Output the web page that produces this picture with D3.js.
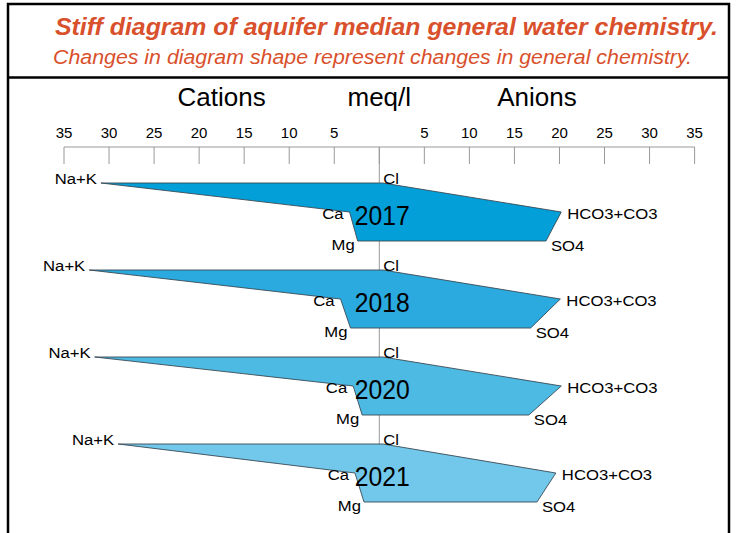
<!DOCTYPE html>
<html>
<head>
<meta charset="utf-8">
<script src="https://cdn.jsdelivr.net/npm/d3@7"></script>
<style>
  html, body { margin: 0; padding: 0; background: #fff; }
  svg { display: block; font-family: "Liberation Sans", Arial, sans-serif; }
</style>
</head>
<body>
<svg id="chart" width="738" height="533"></svg>
<script>
// ---- data ----
const years   = ["2017", "2018", "2020", "2021"];
const naK     = [30.9, 32.2, 31.6, 29.0];
const ca      = [3.3, 4.3, 2.9, 2.7];
const mg      = [2.4, 3.2, 1.9, 1.7];
const cl      = [0.4, 0.4, 0.4, 0.4];
const hco3    = [20.2, 20.1, 20.2, 19.6];
const so4     = [18.5, 16.8, 16.6, 17.5];
const tickVals = [-35, -30, -25, -20, -15, -10, -5, 0, 5, 10, 15, 20, 25, 30, 35];
const colors  = ["#039fd9", "#2aaade", "#4dbae4", "#72c8eb"];
const title    = "Stiff diagram of aquifer median general water chemistry.";
const subtitle = "Changes in diagram shape represent changes in general chemistry.";

// ---- layout ----
const svg = d3.select("#chart");
const x = d3.scaleLinear().domain([-35, 35]).range([64, 694.6]);
const yTop = d3.scalePoint().domain(years).range([183, 444]);
const rowStep = 29;
const K = 1.15; // horizontal stretch of small labels

// frame
svg.append("rect").attr("x", 8).attr("y", 4).attr("width", 721).attr("height", 560)
  .attr("fill", "none").attr("stroke", "#000").attr("stroke-width", 2.5);
svg.append("line").attr("x1", 8).attr("x2", 729).attr("y1", 77.5).attr("y2", 77.5)
  .attr("stroke", "#000").attr("stroke-width", 2.5);

// titles
svg.append("text").attr("x", 55).attr("y", 35)
  .attr("font-size", 23.5).attr("font-weight", "bold").attr("font-style", "italic")
  .attr("textLength", 663).attr("lengthAdjust", "spacingAndGlyphs")
  .attr("fill", "#d9502c").text(title);
svg.append("text").attr("x", 53).attr("y", 64)
  .attr("font-size", 19.5).attr("font-style", "italic")
  .attr("textLength", 639).attr("lengthAdjust", "spacingAndGlyphs")
  .attr("fill", "#d9502c").text(subtitle);

// header labels
const hdr = [["Cations", x(-17.5)], ["meq/l", x(0)], ["Anions", x(17.5)]];
svg.selectAll("text.hdr").data(hdr).join("text").attr("class", "hdr")
  .attr("x", d => d[1]).attr("y", 106).attr("text-anchor", "middle")
  .attr("font-size", 26).attr("fill", "#000").text(d => d[0]);

// axis
const axisY = 147;
svg.append("line").attr("x1", x(-35)).attr("x2", x(35)).attr("y1", axisY).attr("y2", axisY)
  .attr("stroke", "#999").attr("stroke-width", 1);
svg.selectAll("line.tick").data(tickVals).join("line").attr("class", "tick")
  .attr("x1", d => x(d)).attr("x2", d => x(d)).attr("y1", axisY).attr("y2", axisY + 17)
  .attr("stroke", "#999").attr("stroke-width", 1);
svg.selectAll("text.ticklbl").data(tickVals.filter(d => d !== 0)).join("text").attr("class", "ticklbl")
  .attr("x", d => x(d)).attr("y", 138).attr("text-anchor", "middle")
  .attr("font-size", 15).attr("fill", "#000").text(d => Math.abs(d));

// center line
svg.append("line").attr("x1", x(0)).attr("x2", x(0))
  .attr("y1", axisY).attr("y2", yTop(years[years.length - 1]) + 2 * rowStep)
  .attr("stroke", "#999").attr("stroke-width", 1);

// diagrams
const data = years.map((yr, i) => ({
  yr, naK: naK[i], ca: ca[i], mg: mg[i], cl: cl[i], hco3: hco3[i], so4: so4[i], color: colors[i]
}));

const g = svg.selectAll("g.stiff").data(data).join("g").attr("class", "stiff");

g.append("polygon")
  .attr("points", d => {
    const t = yTop(d.yr);
    return [
      [x(-d.naK), t], [x(-d.ca), t + rowStep], [x(-d.mg), t + 2 * rowStep],
      [x(d.so4), t + 2 * rowStep], [x(d.hco3), t + rowStep], [x(d.cl), t]
    ].map(p => p.join(",")).join(" ");
  })
  .attr("fill", d => d.color).attr("stroke", "#3a4a55").attr("stroke-width", 0.9);

const lbl = (sel, fx, fy, anchor, txt) => sel.append("text")
  .attr("transform", `translate(${fx},${fy}) scale(${K},1)`)
  .attr("text-anchor", anchor)
  .attr("font-size", 14.5).attr("fill", "#000").text(txt);

g.each(function(d) {
  const s = d3.select(this), t = yTop(d.yr);
  lbl(s, x(-d.naK) - 4, t + 1, "end", "Na+K");
  lbl(s, x(-d.ca) - 6, t + rowStep + 7, "end", "Ca");
  lbl(s, x(-d.mg) - 3, t + 2 * rowStep + 9, "end", "Mg");
  lbl(s, x(0) + 4, t + 1, "start", "Cl");
  lbl(s, x(d.hco3) + 6, t + rowStep + 7, "start", "HCO3+CO3");
  lbl(s, x(d.so4) + 5, t + 2 * rowStep + 10, "start", "SO4");
  s.append("text").attr("x", x(0) + 3).attr("y", t + rowStep + 13)
    .attr("text-anchor", "middle").attr("font-size", 27)
    .attr("textLength", 55).attr("lengthAdjust", "spacingAndGlyphs")
    .attr("fill", "#000").text(d.yr);
});
</script>
</body>
</html>
